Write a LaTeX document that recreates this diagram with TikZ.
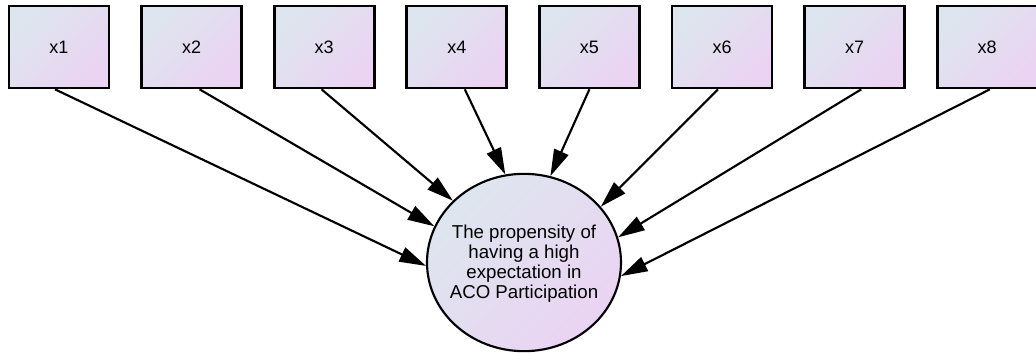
\documentclass[tikz,border=0pt]{standalone}
\usepackage{fontspec}
\setmainfont{Liberation Sans}
\usetikzlibrary{arrows.meta,shapes.geometric}
\definecolor{cA}{HTML}{DDE6EE}
\definecolor{cB}{HTML}{EBD3F3}
\begin{document}
\begin{tikzpicture}[x=0.75pt,y=-0.75pt,
  obsbox/.style={draw=black, line width=2pt, minimum width=75pt, minimum height=61.5pt,
    inner sep=0pt, left color=cA, right color=cB, shading angle=45,
    font=\fontsize{13.5}{15}\selectfont, text=black},
  latent/.style={ellipse, draw=black, line width=1.6pt, minimum width=145.5pt, minimum height=133pt,
    inner sep=0pt, left color=cA, right color=cB, shading angle=45},
  lattext/.style={align=center, inner sep=0pt, font=\fontsize{14}{15}\selectfont, text=black},
  regpath/.style={line width=1.6pt, -{Triangle[length=20pt,width=11.5pt]}}]
\useasboundingbox (0,0) rectangle (1036,354);
\node[obsbox] (x1) at (59,47) {x1};
\node[obsbox] (x2) at (191.6,47) {x2};
\node[obsbox] (x3) at (324.2,47) {x3};
\node[obsbox] (x4) at (456.8,47) {x4};
\node[obsbox] (x5) at (589.4,47) {x5};
\node[obsbox] (x6) at (722,47) {x6};
\node[obsbox] (x7) at (854.6,47) {x7};
\node[obsbox] (x8) at (987.2,47) {x8};
\node[latent] (c) at (524,262.5) {};
\node[lattext] (ct) at (524,264) {The propensity of\\having a high\\expectation in\\ACO Participation};
\draw[regpath] ([xshift=-3pt]x1.south) -- (c.182.6);
\draw[regpath] ([xshift=6pt]x2.south) -- (c.158.7);
\draw[regpath] ([xshift=-2pt]x3.south) -- (c.139);
\draw[regpath] ([xshift=6pt]x4.south) -- (c.102);
\draw[regpath] ([xshift=0pt]x5.south) -- (c.73.8);
\draw[regpath] ([xshift=-3pt]x6.south) -- (c.36.4);
\draw[regpath] ([xshift=5pt]x7.south) -- (c.15.6);
\draw[regpath] ([xshift=2pt]x8.south) -- (c.-8.9);
\end{tikzpicture}
\end{document}
